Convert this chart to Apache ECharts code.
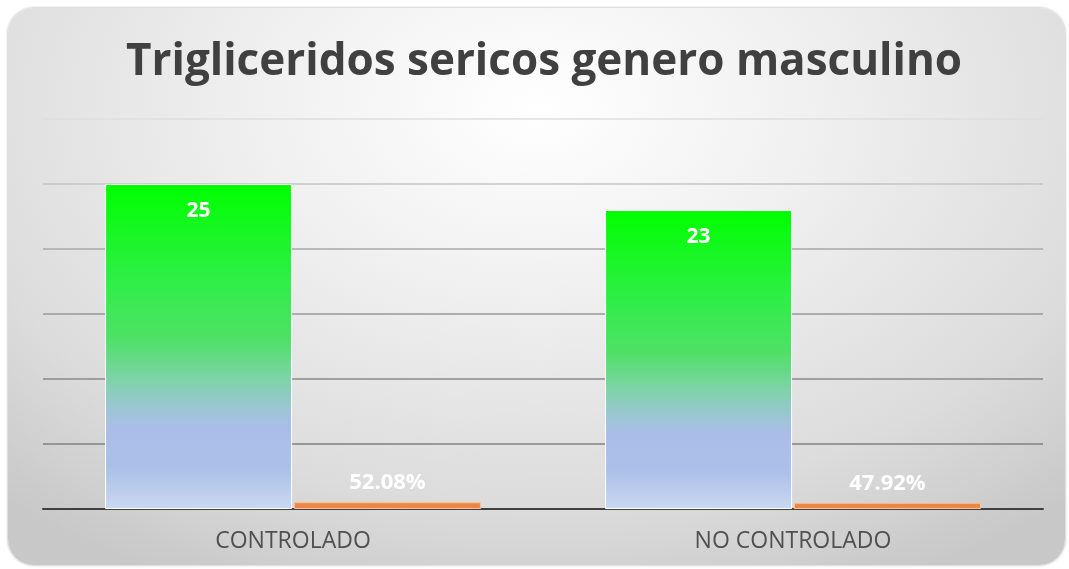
<!DOCTYPE html>
<html>
<head>
<meta charset="utf-8">
<script src="https://cdn.jsdelivr.net/npm/echarts@6/dist/echarts.min.js"></script>
<style>
  html, body { margin: 0; padding: 0; background: #fff; }
  .card {
    position: absolute; left: 8px; top: 8px; width: 1057px; height: 557px;
    border-radius: 26px;
    background: radial-gradient(ellipse 75% 95% at 50% 18%, #ffffff 0%, #f0f0f0 35%, #dcdcdc 75%, #c8c8c8 100%);
    box-shadow: 0 0 3px rgba(0,0,0,0.35);
  }
  #chart { position: absolute; left: 0; top: 0; width: 1069px; height: 569px; }
</style>
</head>
<body>
<div class="card"></div>
<div id="chart"></div>
<script>
const categories = ['CONTROLADO', 'NO CONTROLADO']
const counts = [25, 23]
const shares = [0.5208, 0.4792]
const shareLabels = ['52.08%', '47.92%']

const chart = echarts.init(document.getElementById('chart'))

const greenFill = new echarts.graphic.LinearGradient(0, 0, 0, 1, [
  { offset: 0, color: '#00ff00' },
  { offset: 0.3, color: '#2fee48' },
  { offset: 0.48, color: '#50e068' },
  { offset: 0.6, color: '#7ed3a8' },
  { offset: 0.7, color: '#9fc4d8' },
  { offset: 0.75, color: '#aabde8' },
  { offset: 0.87, color: '#abc0e8' },
  { offset: 1, color: '#c9d8f2' }
])

chart.setOption({
  title: {
    text: 'Trigliceridos sericos genero masculino',
    left: 121,
    top: 35,
    textStyle: {
      fontFamily: 'Open Sans',
      fontWeight: 'bold',
      fontSize: 44,
      color: '#404040'
    }
  },
  grid: { left: 43, right: 26, top: 119, bottom: 60 },
  xAxis: {
    type: 'category',
    data: categories,
    axisTick: { show: false },
    axisLine: { lineStyle: { color: '#404040', width: 2 } },
    axisLabel: {
      fontFamily: 'Open Sans',
      fontSize: 23,
      color: '#505050',
      margin: 21
    }
  },
  yAxis: {
    type: 'value',
    min: 0,
    max: 30,
    interval: 5,
    axisLabel: { show: false },
    axisLine: { show: false },
    axisTick: { show: false },
    splitLine: {
      lineStyle: {
        width: 1.5,
        color: ['#404040', '#808080', '#8a8a8a', '#999999', '#a8a8a8', '#c4c4c4', '#dedede']
      }
    }
  },
  series: [
    {
      type: 'bar',
      data: counts,
      barWidth: 187,
      barGap: '1%',
      itemStyle: { color: greenFill, borderColor: '#ffffff', borderWidth: 1 },
      label: {
        show: true,
        position: 'insideTop',
        distance: 17,
        fontFamily: 'Open Sans',
        fontWeight: 'bold',
        fontSize: 21,
        color: '#ffffff'
      }
    },
    {
      type: 'bar',
      data: shares,
      barWidth: 187,
      itemStyle: { color: '#ee8643', borderColor: '#f6c3a0', borderWidth: 1 },
      label: {
        show: true,
        position: 'top',
        distance: 8,
        fontFamily: 'Open Sans',
        fontWeight: 'bold',
        fontSize: 22,
        color: '#ffffff',
        formatter: (p) => shareLabels[p.dataIndex]
      }
    }
  ]
})
</script>
</body>
</html>
